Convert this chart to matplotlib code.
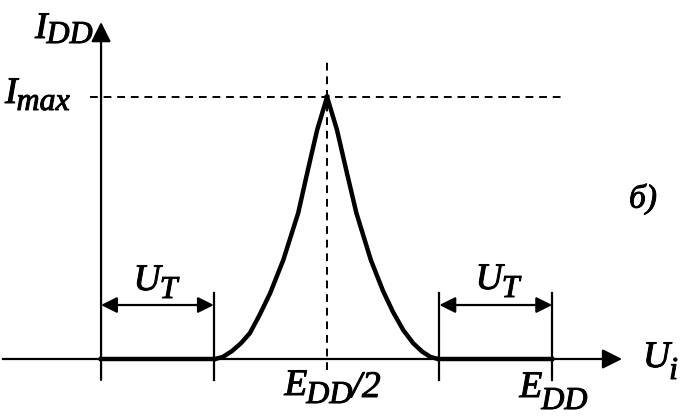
import matplotlib
matplotlib.use('Agg')
import matplotlib.pyplot as plt
import matplotlib.patheffects as pe

# supply current I_DD versus input voltage U_i (U_i in units of E_DD, I in units of I_max)
u_rise = [0.253, 0.270, 0.290, 0.310, 0.330, 0.352, 0.375, 0.404, 0.437, 0.457, 0.479, 0.501]
i_rise = [0.000, 0.008, 0.030, 0.060, 0.099, 0.170, 0.252, 0.378, 0.557, 0.710, 0.874, 1.000]
u_fall = [0.501, 0.523, 0.545, 0.566, 0.598, 0.625, 0.647, 0.670, 0.692, 0.712, 0.730, 0.747]
i_fall = [1.000, 0.874, 0.710, 0.557, 0.378, 0.260, 0.180, 0.110, 0.060, 0.028, 0.008, 0.000]
u_threshold = 0.25
u_half = 0.5
e_dd = 1.0
i_max = 1.0

W, H = 683, 419
fig = plt.figure(figsize=(W / 100, H / 100), dpi=100)
ax = fig.add_axes([0, 0, 1, 1])
ax.set_xlim(-0.224, 1.290)
ax.set_ylim(-0.229, 1.370)
ax.axis('off')

k = 'black'
arrow = dict(arrowstyle='-|>', mutation_scale=30, lw=1.6, color=k, shrinkA=0, shrinkB=0)
# axes
ax.annotate('', xy=(1.155, 0), xytext=(-0.218, 0), arrowprops=arrow)
ax.annotate('', xy=(0, 1.286), xytext=(0, -0.08), arrowprops=arrow)

# guide lines at the peak
ax.plot([-0.024, 1.029], [i_max, i_max], color=k, lw=1.4, ls=(0, (4, 3)))
ax.plot([u_half, u_half], [-0.042, 1.149], color=k, lw=1.4, ls=(0, (4, 3)))

# tick lines
for u in [u_threshold, e_dd - u_threshold, e_dd]:
    ax.plot([u, u], [-0.08, 0.25], color=k, lw=1.6)

# the curve and the flat zero-current parts
ax.plot(u_rise, i_rise, color=k, lw=3.2, solid_joinstyle='round')
ax.plot(u_fall, i_fall, color=k, lw=3.2, solid_joinstyle='round')
ax.plot([0, u_threshold], [0, 0], color=k, lw=3.2)
ax.plot([e_dd - u_threshold, e_dd], [0, 0], color=k, lw=3.2)

# U_T dimension arrows
dim = dict(arrowstyle='<|-|>', mutation_scale=24, lw=1.6, color=k, shrinkA=0, shrinkB=0)
ax.annotate('', xy=(0, 0.206), xytext=(u_threshold, 0.206), arrowprops=dim)
ax.annotate('', xy=(e_dd - u_threshold, 0.206), xytext=(e_dd, 0.206), arrowprops=dim)

# labels: italic serif letter with a large, lowered subscript
renderer = fig.canvas.get_renderer()
font = dict(family='Liberation Serif', style='italic', color=k,
            path_effects=[pe.withStroke(linewidth=0.7, foreground=k)])
MAIN, SUB = 27, 23


def label(x, y, parts, ha='left'):
    # parts: list of (text, size, drop_px); x, y in pixels from top-left, y = baseline
    texts = []
    cx = 0
    for s, size, drop in parts:
        t = fig.text(0, 0, s, fontsize=size, ha='left', va='baseline',
                     transform=None, **font)
        w = t.get_window_extent(renderer).width
        texts.append((t, cx, drop))
        cx += w - 1
    width = cx
    x0 = x - width / 2 if ha == 'center' else (x - width if ha == 'right' else x)
    for t, off, drop in texts:
        t.set_position((x0 + off, H - (y + drop)))


label(35, 38, [('I', MAIN, 0), ('DD', SUB, 5)])
label(5, 103, [('I', MAIN, 0), ('max', SUB, 7)])
label(155, 290, [('U', MAIN, 0), ('T', SUB, 8)], ha='center')
label(497, 289, [('U', MAIN, 0), ('T', SUB, 8)], ha='center')
label(332, 395, [('E', MAIN, 0), ('DD', SUB, 8), ('/2', MAIN, 2)], ha='center')
label(553, 397, [('E', MAIN, 0), ('DD', SUB, 12)], ha='center')
label(643, 367, [('U', MAIN, 0), ('i', SUB, 12)])
fig.text(643, H - 199, 'б)', fontsize=24, ha='center', va='center',
         transform=None, **font)

fig.savefig('out.png', dpi=100)
